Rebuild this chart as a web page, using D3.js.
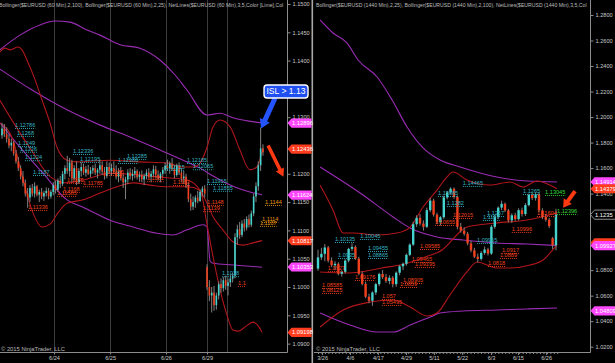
<!DOCTYPE html>
<html><head><meta charset="utf-8">
<script src="https://cdn.jsdelivr.net/npm/d3@7"></script>
<style>html,body{margin:0;padding:0;background:#000;}svg{display:block;}text{font-family:"Liberation Sans",Arial,sans-serif;}</style>
</head><body><svg id="c" width="615" height="363"></svg>
<script>
// ---------------- DATA ----------------
const leftTitle = "Bollinger($EURUSD (60 Min),2,100), Bollinger($EURUSD (60 Min),2,25), NetLines($EURUSD (60 Min),3,5,Color [Lime],Col";
const rightTitle = "Bollinger($EURUSD (1440 Min),2,25), Bollinger($EURUSD (1440 Min),2,100), NetLines($EURUSD (1440 Min),3,5,Col";
const copyright = "\u00a9 2015 NinjaTrader, LLC";

// 60-min EURUSD bars [open, high, low, close]
const leftOHLC = [
[1.1268,1.1290,1.1262,1.1280],[1.1280,1.1288,1.1265,1.1270],[1.1270,1.1282,1.1255,1.1262],[1.1262,1.1270,1.1245,1.1250],
[1.1250,1.1262,1.1240,1.1255],[1.1255,1.1258,1.1232,1.1236],[1.1236,1.1242,1.1218,1.1222],[1.1222,1.1230,1.1205,1.1210],
[1.1210,1.1215,1.1190,1.1195],[1.1195,1.1205,1.1178,1.1184],[1.1184,1.1190,1.1160,1.1165],[1.1165,1.1175,1.1140,1.1158],
[1.1158,1.1180,1.1150,1.1175],[1.1175,1.1182,1.1160,1.1165],[1.1165,1.1185,1.1158,1.1178],[1.1178,1.1180,1.1160,1.1163],
[1.1163,1.1172,1.1150,1.1168],[1.1168,1.1175,1.1155,1.1160],[1.1160,1.1170,1.1152,1.1166],[1.1166,1.1176,1.1160,1.1170],
[1.1170,1.1175,1.1155,1.1160],[1.1160,1.1172,1.1156,1.1168],[1.1168,1.1185,1.1162,1.1180],[1.1180,1.1188,1.1165,1.1172],
[1.1172,1.1192,1.1168,1.1188],[1.1188,1.1196,1.1175,1.1182],[1.1182,1.1205,1.1178,1.1200],[1.1200,1.1215,1.1190,1.1210],
[1.1210,1.1232,1.1200,1.1205],[1.1205,1.1228,1.1195,1.1220],[1.1220,1.1225,1.1185,1.1192],[1.1192,1.1215,1.1188,1.1210],
[1.1210,1.1222,1.1180,1.1185],[1.1185,1.1210,1.1182,1.1205],[1.1205,1.1220,1.1195,1.1212],[1.1212,1.1218,1.1198,1.1202],
[1.1202,1.1214,1.1195,1.1208],[1.1208,1.1216,1.1198,1.1200],[1.1200,1.1212,1.1194,1.1206],[1.1206,1.1215,1.1200,1.1210],
[1.1210,1.1218,1.1198,1.1202],[1.1202,1.1210,1.1192,1.1207],[1.1207,1.1225,1.1200,1.1215],[1.1215,1.1222,1.1198,1.1204],
[1.1204,1.1212,1.1190,1.1196],[1.1196,1.1222,1.1192,1.1212],[1.1212,1.1220,1.1200,1.1205],[1.1205,1.1218,1.1196,1.1210],
[1.1210,1.1222,1.1200,1.1203],[1.1203,1.1215,1.1190,1.1195],[1.1195,1.1210,1.1185,1.1205],[1.1205,1.1212,1.1188,1.1192],
[1.1192,1.1200,1.1175,1.1185],[1.1185,1.1195,1.1155,1.1190],[1.1190,1.1208,1.1182,1.1202],[1.1202,1.1210,1.1190,1.1196],
[1.1196,1.1208,1.1188,1.1200],[1.1200,1.1212,1.1192,1.1205],[1.1205,1.1208,1.1190,1.1194],[1.1194,1.1204,1.1186,1.1198],
[1.1198,1.1206,1.1185,1.1190],[1.1190,1.1200,1.1180,1.1196],[1.1196,1.1208,1.1190,1.1202],[1.1202,1.1210,1.1192,1.1195],
[1.1195,1.1205,1.1185,1.1200],[1.1200,1.1215,1.1195,1.1208],[1.1208,1.1214,1.1192,1.1198],[1.1198,1.1206,1.1188,1.1192],
[1.1192,1.1203,1.1185,1.1200],[1.1200,1.1212,1.1195,1.1207],[1.1207,1.1220,1.1200,1.1214],[1.1214,1.1225,1.1205,1.1210],
[1.1210,1.1222,1.1200,1.1218],[1.1218,1.1228,1.1205,1.1208],[1.1208,1.1215,1.1192,1.1198],[1.1198,1.1218,1.1195,1.1214],
[1.1214,1.1220,1.1198,1.1202],[1.1202,1.1210,1.1185,1.1192],[1.1192,1.1205,1.1182,1.1195],[1.1195,1.1200,1.1175,1.1180],
[1.1180,1.1185,1.1150,1.1155],[1.1155,1.1165,1.1135,1.1142],[1.1142,1.1160,1.1136,1.1150],[1.1150,1.1162,1.1140,1.1158],
[1.1158,1.1170,1.1148,1.1152],[1.1152,1.1172,1.1150,1.1168],[1.1168,1.1178,1.1160,1.1174],[1.1174,1.1180,1.1158,1.1165],
[1.1035,1.1040,1.0995,1.1000],[1.1000,1.1012,1.0975,1.0985],[1.0985,1.1000,1.0955,1.0990],[1.0990,1.1002,1.0958,1.0968],
[1.0968,1.0990,1.0960,1.0985],[1.0985,1.1010,1.0978,1.1005],[1.1005,1.1015,1.0990,1.0998],[1.0998,1.1018,1.0992,1.1012],
[1.1012,1.1020,1.0995,1.1002],[1.1002,1.1015,1.0985,1.1008],[1.1008,1.1022,1.1000,1.1015],[1.1015,1.1025,1.1008,1.1020],
[1.1020,1.1095,1.1015,1.1088],[1.1088,1.1110,1.1075,1.1102],[1.1102,1.1115,1.1085,1.1092],[1.1092,1.1118,1.1088,1.1112],
[1.1112,1.1120,1.1098,1.1105],[1.1105,1.1125,1.1100,1.1120],[1.1120,1.1128,1.1105,1.1110],[1.1110,1.1135,1.1106,1.1130],
[1.1130,1.1165,1.1125,1.1160],[1.1160,1.1185,1.1150,1.1178],[1.1178,1.1222,1.1170,1.1215],[1.1215,1.1282,1.1205,1.1245],
[1.1245,1.1252,1.1232,1.1238]
];

// Daily EURUSD bars [open, high, low, close]
const rightOHLC = [
[1.0812,1.0960,1.0795,1.0900],[1.0900,1.0975,1.0880,1.0928],[1.0928,1.1005,1.0870,1.0978],[1.0978,1.0990,1.0860,1.0875],
[1.0875,1.0900,1.0825,1.0838],[1.0838,1.0870,1.0800,1.0850],[1.0850,1.0862,1.0760,1.0772],[1.0772,1.0800,1.0750,1.0785],
[1.0785,1.0885,1.0775,1.0875],[1.0875,1.0975,1.0860,1.0967],[1.0967,1.1010,1.0950,1.0982],[1.0982,1.0995,1.0880,1.0890],
[1.0890,1.0905,1.0760,1.0772],[1.0772,1.0790,1.0680,1.0692],[1.0692,1.0710,1.0580,1.0592],[1.0592,1.0615,1.0540,1.0560],
[1.0560,1.0635,1.0520,1.0625],[1.0625,1.0700,1.0605,1.0690],[1.0690,1.0780,1.0675,1.0770],[1.0770,1.0800,1.0730,1.0745],
[1.0745,1.0770,1.0700,1.0715],[1.0715,1.0760,1.0690,1.0740],[1.0740,1.0755,1.0665,1.0690],[1.0690,1.0790,1.0670,1.0780],
[1.0780,1.0840,1.0760,1.0830],[1.0830,1.0860,1.0800,1.0850],[1.0850,1.0930,1.0835,1.0920],[1.0920,1.1010,1.0910,1.1000],
[1.1000,1.1180,1.0990,1.1160],[1.1160,1.1230,1.1140,1.1210],[1.1210,1.1240,1.1150,1.1165],[1.1165,1.1190,1.1110,1.1140],
[1.1140,1.1290,1.1130,1.1270],[1.1270,1.1365,1.1255,1.1345],[1.1345,1.1360,1.1220,1.1235],[1.1235,1.1250,1.1160,1.1175],
[1.1175,1.1225,1.1150,1.1215],[1.1215,1.1385,1.1200,1.1370],[1.1370,1.1420,1.1355,1.1410],[1.1410,1.1450,1.1395,1.1438],
[1.1438,1.1448,1.1360,1.1373],[1.1373,1.1385,1.1120,1.1140],[1.1140,1.1170,1.1095,1.1110],[1.1110,1.1135,1.1070,1.1085],
[1.1085,1.1100,1.0995,1.1010],[1.1010,1.1030,1.0940,1.0955],[1.0955,1.0975,1.0895,1.0905],[1.0905,1.0930,1.0860,1.0888],
[1.0888,1.0950,1.0875,1.0935],[1.0935,1.0985,1.0920,1.0962],[1.0962,1.0975,1.0915,1.0930],[1.0930,1.1155,1.0920,1.1140],
[1.1140,1.1230,1.1125,1.1216],[1.1216,1.1300,1.1200,1.1290],[1.1290,1.1345,1.1270,1.1320],[1.1320,1.1330,1.1255,1.1268],
[1.1268,1.1280,1.1175,1.1190],[1.1190,1.1245,1.1170,1.1230],[1.1230,1.1250,1.1185,1.1200],[1.1200,1.1285,1.1190,1.1270],
[1.1270,1.1290,1.1220,1.1240],[1.1240,1.1325,1.1225,1.1310],[1.1310,1.1400,1.1300,1.1390],[1.1390,1.1405,1.1350,1.1365],
[1.1365,1.1410,1.1345,1.1395],[1.1395,1.1410,1.1255,1.1268],[1.1268,1.1285,1.1200,1.1216],[1.1216,1.1240,1.1180,1.1195],
[1.1195,1.1210,1.1130,1.1145],[1.1050,1.1060,1.0965,1.0995],[1.0995,1.1280,1.0955,1.1235]
];

// Bollinger bands as [bar index, price]
const leftPurpleUpper = [[-0.9,1.1419],[7.7,1.1445],[16.3,1.1463],[22.7,1.1470],[29.2,1.1468],[36.5,1.1454],[42.1,1.1445],[50.6,1.1428],[59.2,1.1422],[67.8,1.1401],[74.2,1.1375],[79.4,1.1348],[88,1.1304],[93.6,1.1307],[99.1,1.1299],[111.6,1.1290]];
const leftPurpleMid = [[-0.9,1.1385],[12.9,1.1348],[27.9,1.1313],[42.1,1.1286],[56.2,1.1263],[67.8,1.1242],[79.4,1.1221],[85,1.1210],[90.6,1.1196],[99.1,1.1178],[106.4,1.1168],[111.6,1.1163]];
const leftPurpleLower = [[-0.9,1.1290],[7.7,1.1247],[17.6,1.1201],[27.9,1.1154],[34.8,1.1141],[46.4,1.1118],[56.2,1.1106],[66.5,1.1095],[73.4,1.1092],[79.4,1.1101],[86.3,1.1110],[88,1.1106],[89.3,1.1046],[90.6,1.1042],[99.1,1.1039],[111.6,1.1035]];
const leftRedUpper = [[-0.9,1.1415],[1.3,1.1422],[3.4,1.1419],[6.9,1.1424],[8.6,1.1419],[10.7,1.1401],[14.2,1.1366],[17.2,1.1330],[20.6,1.1290],[23.6,1.1247],[27.9,1.1224],[32.2,1.1221],[46.4,1.1224],[59.2,1.1221],[70.8,1.1219],[77.7,1.1212],[82,1.1212],[85,1.1219],[88,1.1247],[90.6,1.1283],[93.6,1.1295],[97.9,1.1283],[102.1,1.1242],[106.4,1.1207],[109.4,1.1212],[111.6,1.1240]];
const leftRedMid = [[-0.9,1.1330],[5,1.1290],[12.9,1.1240],[20.6,1.1195],[27.9,1.1184],[34.8,1.1189],[46.4,1.1201],[59.2,1.1198],[70.8,1.1193],[79.4,1.1189],[85,1.1171],[88,1.1148],[90.6,1.1124],[94.8,1.1101],[99.1,1.1080],[103.4,1.1074],[107.7,1.1078],[111.6,1.1082]];
const leftRedLower = [[-0.9,1.1290],[4.7,1.1260],[7.7,1.1212],[9.9,1.1177],[13.3,1.1131],[17.2,1.1106],[20.6,1.1111],[24,1.1131],[27.9,1.1148],[34.8,1.1154],[42.1,1.1166],[49.4,1.1177],[56.2,1.1184],[63.5,1.1180],[70.8,1.1177],[79.4,1.1177],[85,1.1171],[88,1.1110],[90.6,1.1053],[93.6,1.0995],[96.6,1.0950],[99.1,1.0924],[101.5,1.0922],[104.5,1.0930],[107.7,1.0938],[110.2,1.0930],[111.6,1.0920]];

const rightPurpleUpper = [[0.6,1.2761],[4.4,1.2659],[8.5,1.2581],[11.8,1.2447],[17.4,1.2314],[21.8,1.2134],[26.2,1.1922],[30.9,1.1758],[35.9,1.1663],[41.8,1.1609],[52.6,1.1530],[61.5,1.1499],[70.3,1.1491]];
const rightPurpleMid = [[0.6,1.1609],[12.4,1.1405],[22.1,1.1217],[27.1,1.1130],[35,1.1060],[42.6,1.1036],[52.6,1.1013],[61.5,1.1005],[70.3,1.0993]];
const rightPurpleLower = [[0.6,1.0464],[9.4,1.0370],[17.4,1.0315],[22.1,1.0315],[27.1,1.0370],[33.8,1.0441],[35.9,1.0464],[42.6,1.0480],[52.6,1.0488],[61.5,1.0496],[70.3,1.0503]];
const rightRedUpper = [[0.6,1.1467],[4.4,1.1272],[7.4,1.1091],[10.3,1.1091],[17.4,1.1076],[23.2,1.1091],[27.1,1.1138],[30.9,1.1295],[35,1.1428],[37.9,1.1530],[39.7,1.1569],[43.8,1.1507],[50.6,1.1467],[56.5,1.1491],[60.3,1.1452],[64.4,1.1499],[68.2,1.1467],[70.3,1.1438]];
const rightRedMid = [[0.6,1.0786],[8.8,1.0778],[18.8,1.0817],[26.5,1.0856],[31.5,1.0903],[36.5,1.0958],[42.4,1.1115],[43.8,1.1138],[52.6,1.1170],[61.5,1.1193],[70.3,1.1248]];
const rightRedLower = [[0.6,1.0354],[7.4,1.0488],[15.3,1.0550],[22.1,1.0566],[27.1,1.0511],[32.1,1.0441],[35,1.0464],[38.8,1.0605],[43.8,1.0786],[46.8,1.0864],[52.6,1.0817],[56.5,1.0817],[62.4,1.0840],[66.2,1.0880],[70.3,1.1000]];

// NetLines labels [bar index, price, text, kind]
const leftNetLabels = [
[5.6,1.1281,"1.12786","c"],[6.4,1.1267,"1.1268","c"],[6.9,1.1249,"1.1249","c"],[7.7,1.1239,"1.1236","c"],[9.9,1.1224,"1.1224","c"],
[13.3,1.1198,"1.1187","c"],[30.5,1.1235,"1.12336","c"],[33.5,1.1221,"1.12195","c"],[53.6,1.1226,"1.12285","c"],[49.8,1.1219,"1.12186","c"],
[79.4,1.1219,"1.12185","c"],[82,1.1208,"1.12065","c"],[70,1.1207,"1.12115","c"],[88,1.1182,"1.11915","c"],[90.6,1.1170,"1.11855","c"],[94.4,1.1019,"1.1018","c"],
[11.2,1.1136,"1.11336","r"],[23.6,1.1161,"1.11585","r"],[26.2,1.1168,"1.1168","r"],[27.9,1.1184,"1.1175","r"],[34.8,1.1178,"1.11785","r"],
[45.1,1.1198,"1.1185","r"],[62.2,1.1187,"1.1181","r"],[73.4,1.1180,"1.1183","r"],[88,1.1145,"1.1148","r"],[86.3,1.1134,"1.1139","r"],[101.3,1.1002,"1.1","r"],
[112.9,1.1145,"1.1144","o"],[111.6,1.1115,"1.1114","o"],[110.7,1.1108,"1.1107","o"]
];
const rightNetLabels = [
[5,1.1021,"1.10135","c"],[12.4,1.1044,"1.10045","c"],[5.9,1.0895,"1.0935","c"],[14.7,1.0950,"1.09455","c"],[14.7,1.0895,"1.08865","c"],
[42.6,1.1460,"1.14465","c"],[35.3,1.1381,"1.13885","c"],[37.9,1.1303,"1.1282","c"],[49.7,1.1224,"1.1267","c"],[48.5,1.1193,"1.1197","c"],
[46.8,1.1013,"1.09965","c"],[60.3,1.1397,"1.1265","c"],
[66.8,1.1389,"1.13045","g"],[70.3,1.1240,"1.12396","g"],
[2.9,1.0793,"1.0927","r"],[1.2,1.0660,"1.08585","r"],[1.2,1.0621,"1.08125","r"],[10.9,1.0723,"1.09176","r"],[25,1.0699,"1.08905","r"],
[24.1,1.0668,"1.0859","r"],[18.8,1.0574,"1.057","r"],[18.8,1.0527,"1.05495","r"],[30,1.0966,"1.09585","r"],[27.6,1.0864,"1.09465","r"],
[28.5,1.0825,"1.09195","r"],[34.4,1.1154,"1.10655","r"],[39.7,1.1209,"1.12015","r"],[54.1,1.0935,"1.0917","r"],[53.5,1.0895,"1.0889","r"],
[50,1.0833,"1.0818","r"],[57,1.1099,"1.10996","r"],[64.4,1.1224,"1.11604","r"]
];

// axis ticks (those hidden behind markers / callout in the reference are omitted), dates and price markers
const leftTicks = [1.15,1.145,1.14,1.13,1.12,1.115,1.11,1.105,1.10,1.095,1.09];
const rightTicks = [1.28,1.26,1.24,1.22,1.20,1.18,1.16,1.14,1.08,1.06,1.04,1.02];
const leftDates = ["6/24","6/25","6/26","6/29"];
const leftDateIdx = [22.3,46.4,70.4,88];
const leftSessionIdx = [96.6];
const rightDates = ["3/26","4/6","4/17","4/29","5/11","5/22","6/3","6/15","6/26"];
const rightDateIdx = [1.2,9.4,17.6,25.9,34.1,42.4,50.9,58.8,67.1];
const leftMarkers = [[1.12896,"p"],[1.12436,"r"],[1.11624,"p"],[1.10817,"r"],[1.10353,"p"],[1.09198,"r"]];
const rightMarkers = [[1.14914,"p"],[1.14379,"r"],[1.1235,"k"],[1.10140,"r"],[1.09927,"p"],[1.04809,"p"]];

// annotations (data coords)
const calloutText = "ISL > 1.13";
const calloutPos = [121.9, 1.13455];
const leftArrows = [{from:[117.2,1.1334],to:[111.2,1.1280],color:"#2354ff",sw:5,hl:9,hw:11},
                    {from:[114.2,1.1250],to:[120.8,1.1195],color:"#ff3a12",sw:3.6,hl:8,hw:9}];
const rightArrows = [{from:[75.6,1.1420],to:[72.1,1.1290],color:"#ff3a12",sw:4,hl:8,hw:10}];

// ---------------- DRAW ----------------
const UP="#45d3cd", DN="#f0401e", WICK="#8e8e8e", PURPLE="#9a2db4", BRED="#b0161b";
const LBL = {c:"#35b4c4", r:"#f0401e", o:"#e89a10", g:"#33dd33"};
const MK = {p:"#ff48ff", r:"#ff3d1e", k:"#000"};
const svg = d3.select("#c");
svg.append("rect").attr("width",615).attr("height",363).attr("fill","#000");
const defs = svg.append("defs");
defs.append("clipPath").attr("id","clipL").append("rect").attr("x",0).attr("y",0).attr("width",287).attr("height",352);
defs.append("clipPath").attr("id","clipR").append("rect").attr("x",314).attr("y",0).attr("width",276).attr("height",352);

const xL = d3.scaleLinear().domain([0,leftOHLC.length-1]).range([2,2+2.33*(leftOHLC.length-1)]);
const yL = d3.scaleLinear().domain([1.09,1.15]).range([343.6,4]);
const xR = d3.scaleLinear().domain([0,rightOHLC.length-1]).range([318,556]);
const yR = d3.scaleLinear().domain([1.02,1.28]).range([346.7,15]);

function panel(clip, x, y, bars, bw, bands, labels){
  const g = svg.append("g").attr("clip-path","url(#"+clip+")");
  const line = d3.line().x(d=>x(d[0])).y(d=>y(d[1])).curve(d3.curveMonotoneX);
  bands.forEach(b=>g.append("path").attr("d",line(b.data)).attr("fill","none").attr("stroke",b.color).attr("stroke-width",1.1));
  const c = g.append("g").selectAll("g").data(bars).join("g");
  c.append("line").attr("x1",(d,i)=>x(i)).attr("x2",(d,i)=>x(i)).attr("y1",d=>y(d[1])).attr("y2",d=>y(d[2]))
    .attr("stroke",WICK).attr("stroke-width",0.9);
  c.append("rect").attr("x",(d,i)=>x(i)-bw/2).attr("width",bw)
    .attr("y",d=>y(Math.max(d[0],d[3]))).attr("height",d=>Math.max(0.8,Math.abs(y(d[0])-y(d[3]))))
    .attr("fill",d=>d[3]>=d[0]?UP:DN);
  const lg = svg.append("g");
  labels.forEach(l=>{
    const t = lg.append("text").attr("x",x(l[0])).attr("y",y(l[1])-1.2).text(l[2])
      .attr("font-size",5.6).attr("fill",LBL[l[3]]);
    const w = t.node().getComputedTextLength();
    lg.append("line").attr("x1",x(l[0])).attr("x2",x(l[0])+w).attr("y1",y(l[1])+0.5).attr("y2",y(l[1])+0.5)
      .attr("stroke",LBL[l[3]]).attr("stroke-width",0.9).attr("stroke-dasharray","1,1");
  });
}

// left grid lines
svg.append("g").selectAll("line").data(leftDateIdx.concat(leftSessionIdx)).join("line")
  .attr("x1",d=>Math.round(xL(d))+0.5).attr("x2",d=>Math.round(xL(d))+0.5).attr("y1",0).attr("y2",352)
  .attr("stroke","#3c3c3c").attr("stroke-width",1);

panel("clipL", xL, yL, leftOHLC, 1.6,
  [{data:leftPurpleUpper,color:PURPLE},{data:leftPurpleMid,color:PURPLE},{data:leftPurpleLower,color:PURPLE},
   {data:leftRedUpper,color:BRED},{data:leftRedMid,color:BRED},{data:leftRedLower,color:BRED}], leftNetLabels);
panel("clipR", xR, yR, rightOHLC, 2.4,
  [{data:rightPurpleUpper,color:PURPLE},{data:rightPurpleMid,color:PURPLE},{data:rightPurpleLower,color:PURPLE},
   {data:rightRedUpper,color:BRED},{data:rightRedMid,color:BRED},{data:rightRedLower,color:BRED}], rightNetLabels);

// axes
const AX="#8c8c8c", TXT="#c9c9c9";
function styleAxis(g, dx){
  g.select(".domain").remove();
  g.selectAll(".tick line").attr("stroke",AX);
  g.selectAll(".tick text").attr("fill",TXT).attr("font-size",5.6).attr("font-family","Liberation Sans, Arial, sans-serif");
  if(dx!==undefined) g.selectAll(".tick text").attr("x",dx);
}
const gYL = svg.append("g").attr("transform","translate(287.5,0)")
  .call(d3.axisRight(yL).tickValues(leftTicks).tickFormat(d3.format(".4f")).tickSize(3));
styleAxis(gYL,5);
const gYR = svg.append("g").attr("transform","translate(590.5,0)")
  .call(d3.axisRight(yR).tickValues(rightTicks).tickFormat(d3.format(".4f")).tickSize(3));
styleAxis(gYR,5);
const gXL = svg.append("g").attr("transform","translate(0,352.5)")
  .call(d3.axisBottom(xL).tickValues(leftDateIdx).tickFormat((d,i)=>leftDates[i]).tickSize(2));
styleAxis(gXL); gXL.selectAll(".tick text").attr("y",4);
const gXRm = svg.append("g").attr("transform","translate(0,352.5)")
  .call(d3.axisBottom(xR).tickValues(d3.range(0,rightOHLC.length,1.02)).tickFormat("").tickSize(1.5));
styleAxis(gXRm);
const gXR = svg.append("g").attr("transform","translate(0,352.5)")
  .call(d3.axisBottom(xR).tickValues(rightDateIdx).tickFormat((d,i)=>rightDates[i]).tickSize(2.5));
styleAxis(gXR); gXR.selectAll(".tick text").attr("y",4);

// axis frame lines
svg.append("line").attr("x1",0).attr("x2",287.5).attr("y1",352.5).attr("y2",352.5).attr("stroke",AX);
svg.append("line").attr("x1",287.5).attr("x2",287.5).attr("y1",0).attr("y2",352.5).attr("stroke",AX);
svg.append("line").attr("x1",314).attr("x2",590.5).attr("y1",352.5).attr("y2",352.5).attr("stroke",AX);
svg.append("line").attr("x1",590.5).attr("x2",590.5).attr("y1",0).attr("y2",352.5).attr("stroke",AX);
svg.append("rect").attr("x",311.5).attr("y",0).attr("width",1.6).attr("height",363).attr("fill","#a8a8a8");

// titles: font size fitted so the whole string ends at the plot edge (as in the reference)
function fitTitle(txt, x0, maxW){
  const t = svg.append("text").attr("x",x0).attr("y",7).attr("font-size",5.5).attr("fill","#bdbdbd").text(txt);
  const w = t.node().getComputedTextLength();
  if (w > maxW) t.attr("font-size", (5.5*maxW/w).toFixed(3));
}
fitTitle(leftTitle, -1, 285);
fitTitle(rightTitle, 316, 271);
svg.append("text").attr("x",1).attr("y",350.5).attr("font-size",5.8).attr("fill","#bdbdbd").text(copyright);
svg.append("text").attr("x",316).attr("y",350.5).attr("font-size",5.8).attr("fill","#bdbdbd").text(copyright);

// price markers
function markers(list, x0, y, w){
  list.forEach(m=>{
    const yy = y(m[0]);
    const p = `M${x0},${yy} L${x0+4},${yy-4.6} L${x0+w},${yy-4.6} L${x0+w},${yy+4.6} L${x0+4},${yy+4.6} Z`;
    svg.append("path").attr("d",p).attr("fill",MK[m[1]]).attr("stroke",m[1]==="k"?"#b0b0b0":"none").attr("stroke-width",0.8);
    svg.append("text").attr("x",x0+4.5).attr("y",yy+2).attr("font-size",5.8).attr("fill","#fff").text(m[0].toFixed(m[1]==="k"?4:5));
  });
}
markers(leftMarkers, 287.5, yL, 24);
markers(rightMarkers, 590.5, yR, 26);

// annotations
function arrowPath(x1,y1,x2,y2,sw,hl,hw){
  const dx=x2-x1, dy=y2-y1, L=Math.hypot(dx,dy), ux=dx/L, uy=dy/L, px=-uy, py=ux;
  const bx=x2-ux*hl, by=y2-uy*hl;
  const pts=[[x1+px*sw/2,y1+py*sw/2],[bx+px*sw/2,by+py*sw/2],[bx+px*hw/2,by+py*hw/2],[x2,y2],
             [bx-px*hw/2,by-py*hw/2],[bx-px*sw/2,by-py*sw/2],[x1-px*sw/2,y1-py*sw/2]];
  return "M"+pts.map(p=>p[0].toFixed(2)+","+p[1].toFixed(2)).join("L")+"Z";
}
leftArrows.forEach(a=>svg.append("path").attr("d",arrowPath(xL(a.from[0]),yL(a.from[1]),xL(a.to[0]),yL(a.to[1]),a.sw,a.hl,a.hw)).attr("fill",a.color));
rightArrows.forEach(a=>svg.append("path").attr("d",arrowPath(xR(a.from[0]),yR(a.from[1]),xR(a.to[0]),yR(a.to[1]),a.sw,a.hl,a.hw)).attr("fill",a.color));
const cx = xL(calloutPos[0]), cy = yL(calloutPos[1]);
svg.append("rect").attr("x",cx-22).attr("y",cy-6.5).attr("width",44).attr("height",13).attr("rx",3)
  .attr("fill","#1f4ff0").attr("stroke","#fff").attr("stroke-width",1.4);
svg.append("text").attr("x",cx).attr("y",cy+3).attr("text-anchor","middle").attr("font-size",8.6).attr("fill","#fff").text(calloutText);
</script>
</body></html>
